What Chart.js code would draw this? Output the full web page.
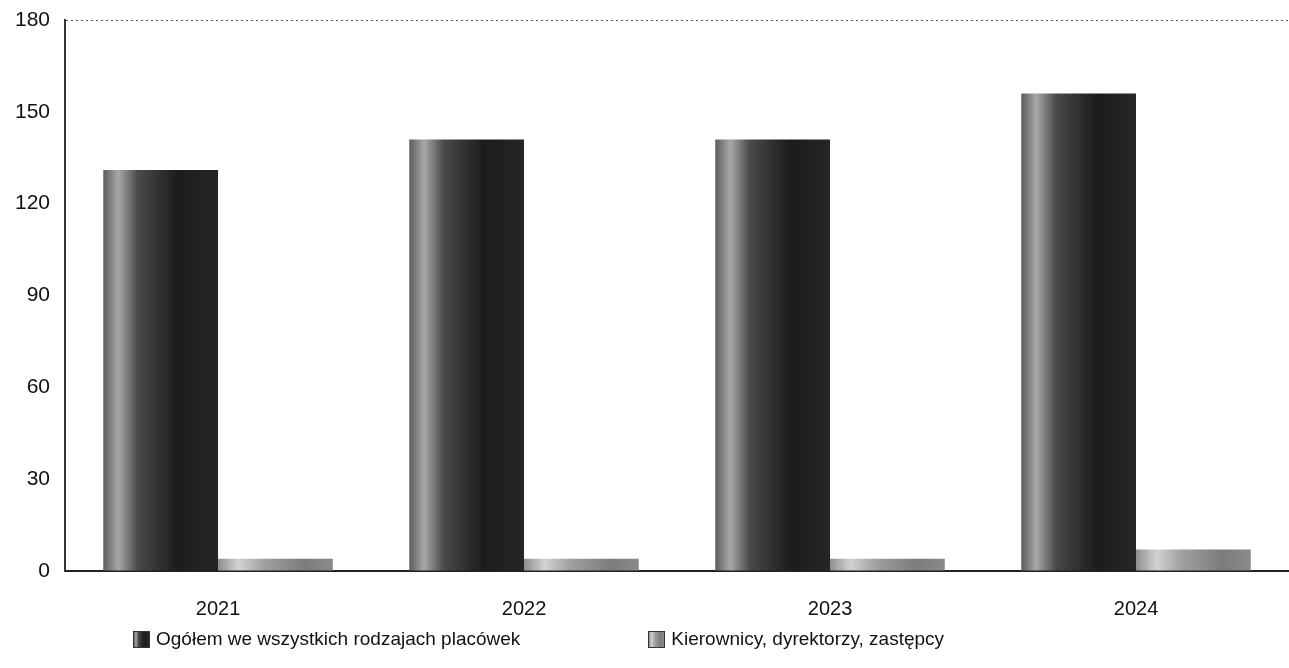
<!DOCTYPE html>
<html lang="pl">
<head>
  <meta charset="UTF-8">
  <title>Wykres</title>
  <script src="https://cdn.jsdelivr.net/npm/chart.js"></script>
  <style>
    html, body { margin: 0; padding: 0; background: #fff; }
    #wrap { position: relative; width: 1289px; height: 668px; }
    #legend {
      position: absolute; left: 133px; top: 628px;
      display: flex; gap: 0;
      font-family: 'Liberation Sans', Arial, sans-serif; font-size: 19px; color: #111;
    }
    #legend .item { display: flex; align-items: center; }
    #legend .item + .item { margin-left: 128px; }
    #legend .box { width: 15px; height: 15px; border: 1px solid #333; margin-right: 6px; }
  </style>
</head>
<body>
  <div id="wrap">
    <canvas id="chart"></canvas>
    <div id="legend"></div>
  </div>

  <script>
    // dane
    const years = ['2021', '2022', '2023', '2024'];
    const ogolem = [131, 141, 141, 156];
    const kierownicy = [4, 4, 4, 7];
    const yTicks = [0, 30, 60, 90, 120, 150, 180];

    const labelOgolem = 'Ogółem we wszystkich rodzajach placówek';
    const labelKier = 'Kierownicy, dyrektorzy, zastępcy';

    const groupPct = 0.75;

    const darkStops = [[0, '#5c5c5c'], [0.13, '#a8a8a8'], [0.3, '#4a4a4a'], [0.65, '#1c1c1c'], [1, '#262626']];
    const lightStops = [[0, '#8e8e8e'], [0.18, '#d2d2d2'], [0.4, '#a0a0a0'], [0.75, '#7c7c7c'], [1, '#8a8a8a']];

    // shaded fill for each bar, like the cylinder look of the scan
    function shade(stops) {
      return function (ctx) {
        const chart = ctx.chart;
        const x = chart.scales.x;
        const fallback = stops[3][1];
        if (!x || ctx.dataIndex === undefined) return fallback;
        const c = x.getPixelForValue(ctx.dataIndex);
        const half = (x.width / years.length) * groupPct / 2;
        if (!isFinite(c) || !isFinite(half) || half <= 0) return fallback;
        const left = ctx.datasetIndex === 0 ? c - half : c;
        const g = chart.ctx.createLinearGradient(left, 0, left + half, 0);
        stops.forEach(s => g.addColorStop(s[0], s[1]));
        return g;
      };
    }

    const cssGradient = stops =>
      'linear-gradient(to right, ' + stops.map(s => s[1] + ' ' + (s[0] * 100) + '%').join(', ') + ')';

    // html legend built from the datasets
    const htmlLegend = {
      id: 'htmlLegend',
      afterUpdate(chart) {
        const el = document.getElementById('legend');
        el.innerHTML = '';
        chart.data.datasets.forEach(ds => {
          const item = document.createElement('div');
          item.className = 'item';
          const box = document.createElement('span');
          box.className = 'box';
          box.style.background = cssGradient(ds.legendStops);
          const txt = document.createElement('span');
          txt.textContent = ds.label;
          item.appendChild(box);
          item.appendChild(txt);
          el.appendChild(item);
        });
      }
    };

    const ctx = document.getElementById('chart').getContext('2d');
    new Chart(ctx, {
      type: 'bar',
      data: {
        labels: years,
        datasets: [
          {
            label: labelOgolem,
            data: ogolem,
            backgroundColor: shade(darkStops),
            borderWidth: 0,
            legendStops: darkStops
          },
          {
            label: labelKier,
            data: kierownicy,
            backgroundColor: shade(lightStops),
            borderWidth: 0,
            legendStops: lightStops
          }
        ]
      },
      options: {
        responsive: true,
        maintainAspectRatio: false,
        animation: false,
        layout: { padding: { left: 0, right: 0, top: 20, bottom: 21 } },
        datasets: {
          bar: { categoryPercentage: groupPct, barPercentage: 1 }
        },
        scales: {
          x: {
            grid: { display: false, drawTicks: false },
            border: { display: true, color: '#222', width: 2 },
            ticks: {
              color: '#111',
              padding: 26,
              font: { family: 'Liberation Sans, Arial, sans-serif', size: 20 }
            }
          },
          y: {
            min: 0,
            max: 180,
            afterBuildTicks: axis => { axis.ticks = yTicks.map(v => ({ value: v })); },
            afterFit: axis => { axis.paddingTop = 0; },
            grid: {
              drawTicks: false,
              color: c => c.tick && c.tick.value === 180 ? '#555' : 'rgba(0,0,0,0)',
              lineWidth: 1
            },
            border: { display: true, color: '#333', width: 2, dash: [2, 3] },
            ticks: {
              color: '#111',
              padding: 15,
              font: { family: 'Liberation Sans, Arial, sans-serif', size: 21 }
            }
          }
        },
        plugins: {
          tooltip: { enabled: false },
          legend: { display: false }
        }
      },
      plugins: [htmlLegend]
    });
  </script>
</body>
</html>
